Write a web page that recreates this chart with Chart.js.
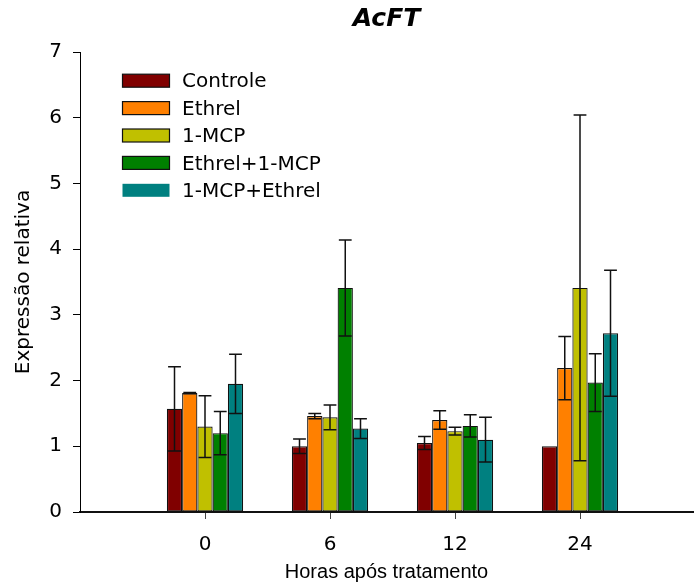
<!DOCTYPE html>
<html>
<head>
<meta charset="utf-8">
<script src="https://cdn.jsdelivr.net/npm/chart.js@4/dist/chart.umd.min.js"></script>
<style>
  body { margin: 0; background: #fff; }
</style>
</head>
<body>
<canvas id="acftChart" width="694" height="586"></canvas>
<script>
// hours after treatment
const hours = ['0', '6', '12', '24'];
const seriesNames = ['Controle', 'Ethrel', '1-MCP', 'Ethrel+1-MCP', '1-MCP+Ethrel'];
const seriesColors = ['#800000', '#FF8000', '#C0C000', '#008000', '#008080'];

// relative expression
const controle     = [1.57, 1.00, 1.05, 1.00];
const ethrel       = [1.81, 1.46, 1.40, 2.19];
const mcp          = [1.30, 1.44, 1.23, 3.41];
const ethrelMcp    = [1.20, 3.41, 1.31, 1.97];
const mcpEthrel    = [1.95, 1.27, 1.10, 2.72];

// error bar half-lengths
const controleErr  = [0.64, 0.11, 0.10, 0];
const ethrelErr    = [0.01, 0.04, 0.14, 0.48];
const mcpErr       = [0.47, 0.19, 0.06, 2.63];
const ethrelMcpErr = [0.33, 0.73, 0.17, 0.44];
const mcpEthrelErr = [0.45, 0.15, 0.34, 0.96];

const yTicks = [0, 1, 2, 3, 4, 5, 6, 7];

const allValues = [controle, ethrel, mcp, ethrelMcp, mcpEthrel];
const allErrors = [controleErr, ethrelErr, mcpErr, ethrelMcpErr, mcpEthrelErr];

const datasets = seriesNames.map((name, s) => ({
    label: name,
    data: allValues[s].map((v, i) => ({ x: i, y: v })),
    errors: allErrors[s],
    backgroundColor: seriesColors[s],
    borderColor: '#111',
    borderWidth: 1.2,
    borderSkipped: false,
    categoryPercentage: 0.61,
    barPercentage: 1.0
}));

// draws the +/- error whiskers on top of each bar
const errorBars = {
    id: 'errorBars',
    afterDatasetsDraw(chart) {
        const ctx = chart.ctx;
        const yScale = chart.scales.y;
        ctx.save();
        ctx.strokeStyle = '#111';
        ctx.lineWidth = 1.5;
        chart.data.datasets.forEach((ds, di) => {
            const meta = chart.getDatasetMeta(di);
            meta.data.forEach((bar, i) => {
                const err = ds.errors[i];
                if (!err) return;
                const v = ds.data[i].y;
                const top = yScale.getPixelForValue(v + err);
                const bot = yScale.getPixelForValue(v - err);
                const half = bar.width * 0.42;
                ctx.beginPath();
                ctx.moveTo(bar.x, top);
                ctx.lineTo(bar.x, bot);
                ctx.moveTo(bar.x - half, top);
                ctx.lineTo(bar.x + half, top);
                ctx.moveTo(bar.x - half, bot);
                ctx.lineTo(bar.x + half, bot);
                ctx.stroke();
            });
        });
        ctx.restore();
    }
};

// legend sits inside the plot, top left
const boxLegend = {
    id: 'boxLegend',
    afterDraw(chart) {
        const ctx = chart.ctx;
        ctx.save();
        ctx.font = '20px "DejaVu Sans"';
        ctx.textBaseline = 'middle';
        chart.data.datasets.forEach((ds, i) => {
            const cy = 80.7 + i * 27.4;
            ctx.fillStyle = ds.backgroundColor;
            ctx.fillRect(122.5, cy - 6.5, 47, 13);
            if (i < chart.data.datasets.length - 1) {
                ctx.strokeStyle = '#111';
                ctx.lineWidth = 1.2;
                ctx.strokeRect(122.5, cy - 6.5, 47, 13);
            }
            ctx.fillStyle = '#000';
            ctx.fillText(ds.label, 182, cy + 1.5);
        });
        ctx.restore();
    }
};

new Chart(document.getElementById('acftChart'), {
    type: 'bar',
    data: { datasets: datasets },
    plugins: [errorBars, boxLegend],
    options: {
        responsive: false,
        animation: false,
        layout: { padding: { left: 0, right: 1, top: 0, bottom: 0 } },
        plugins: {
            legend: { display: false },
            tooltip: { enabled: false },
            title: {
                display: true,
                text: 'AcFT',
                fullSize: false,
                color: '#000',
                font: { family: 'DejaVu Sans', size: 25, weight: 'bold', style: 'italic' },
                padding: { top: 4, bottom: 18 }
            }
        },
        scales: {
            x: {
                type: 'linear',
                offset: false,
                min: -1,
                max: 3.904,
                afterBuildTicks: s => { s.ticks = hours.map((h, i) => ({ value: i })); },
                afterFit: s => { s.height = 74; },
                ticks: {
                    callback: v => hours[v],
                    autoSkip: false,
                    maxRotation: 0,
                    color: '#000',
                    padding: 14,
                    font: { family: 'DejaVu Sans', size: 20 }
                },
                grid: { offset: false, drawOnChartArea: false, tickLength: 7, color: '#444' },
                border: { color: '#111', width: 2 },
                title: {
                    display: true,
                    text: 'Horas após tratamento',
                    color: '#000',
                    font: { family: 'Liberation Sans', size: 20 },
                    padding: { top: 0, bottom: 2 }
                }
            },
            y: {
                min: 0,
                max: 7,
                afterBuildTicks: s => { s.ticks = yTicks.map(v => ({ value: v })); },
                afterFit: s => { s.width = 80; },
                ticks: {
                    color: '#000',
                    padding: 11,
                    font: { family: 'DejaVu Sans', size: 20 }
                },
                grid: { drawOnChartArea: false, tickLength: 7, color: '#000' },
                border: { color: '#000', width: 1 },
                title: {
                    display: true,
                    text: 'Expressão relativa',
                    color: '#000',
                    font: { family: 'DejaVu Sans', size: 20 },
                    padding: { top: 12, bottom: 0 }
                }
            }
        }
    }
});
</script>
</body>
</html>
